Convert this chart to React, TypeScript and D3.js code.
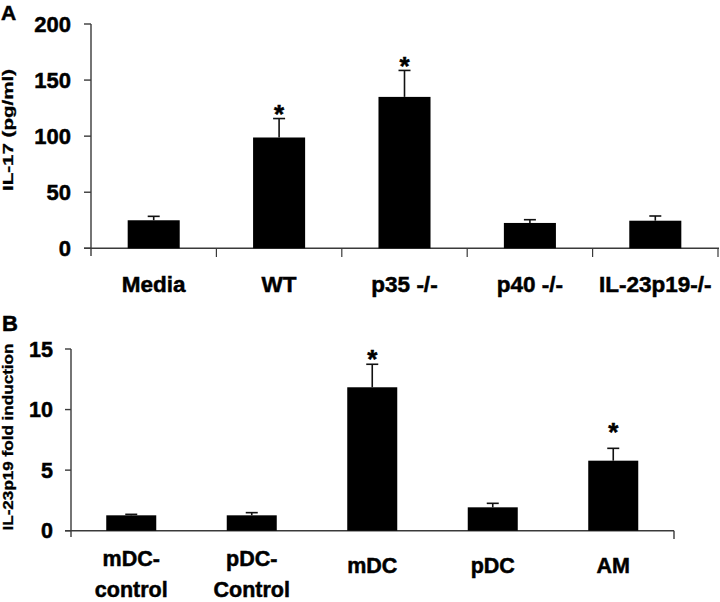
import React from "react";
import * as d3 from "d3";

// Panel A data
const catsA = ["Media", "WT", "p35 -/-", "p40 -/-", "IL-23p19-/-"];
const valsA = [25, 98.8, 135, 22.6, 24.6];
const errA = [28.5, 115.7, 158.6, 25.5, 28.8];
const starsA = [null, 126, 168, null, null];
const ticksA = [0, 50, 100, 150, 200];

// Panel B data
const catsB = [["mDC-", "control"], ["pDC-", "Control"], ["mDC"], ["pDC"], ["AM"]];
const valsB = [1.27, 1.27, 11.84, 1.93, 5.78];
const errB = [1.35, 1.49, 13.74, 2.26, 6.8];
const starsB = [null, null, 14.7, null, 8.73];
const ticksB = [0, 5, 10, 15];

const FONT = "'Liberation Sans', Arial, Helvetica, sans-serif";
const AX = "#3a3a3a";
const TS = { stroke: "#000", strokeWidth: 0.5 };

export default function App() {
  // Panel A scales
  const xA = d3.scaleBand<number>().domain(d3.range(catsA.length)).range([91, 718]).paddingInner(0.585).paddingOuter(0.2925);
  const yA = d3.scaleLinear().domain([0, 200]).range([248.3, 24]);
  const stepA = (718 - 91) / catsA.length;

  // Panel B scales
  const xB = d3.scaleBand<number>().domain(d3.range(catsB.length)).range([71, 673.5]).paddingInner(0.585).paddingOuter(0.2925);
  const yB = d3.scaleLinear().domain([0, 15]).range([530.7, 349]);

  const cap = 6;

  return (
    <svg width={720} height={602} style={{ position: "absolute", left: 0, top: 0, background: "#fff" }} fontFamily={FONT}>
      <rect width={720} height={602} fill="#fff" />
      {/* Panel A */}
      <text x={1} y={20} fontSize={21} fontWeight="bold" {...TS}>A</text>
      <text transform={`translate(12.5,130) rotate(-90)`} textAnchor="middle" fontSize={14} fontWeight="bold" textLength={122} lengthAdjust="spacingAndGlyphs" stroke="#000" strokeWidth={0.3}>IL-17 (pg/ml)</text>
      {/* axes */}
      <line x1={91} x2={91} y1={yA(200)} y2={256} stroke={AX} strokeWidth={1.4} />
      <line x1={84} x2={719} y1={yA(0)} y2={yA(0)} stroke={AX} strokeWidth={1.4} />
      {ticksA.map((t) => (
        <g key={t}>
          <line x1={84} x2={91} y1={yA(t)} y2={yA(t)} stroke={AX} strokeWidth={1.4} />
          <text x={71} y={yA(t)} dy="0.36em" textAnchor="end" fontSize={22} fontWeight="bold" {...TS}>{t}</text>
        </g>
      ))}
      {d3.range(1, catsA.length + 1).map((i) => (
        <line key={i} x1={91 + i * stepA} x2={91 + i * stepA} y1={yA(0)} y2={257} stroke={AX} strokeWidth={1.2} />
      ))}
      {catsA.map((c, i) => {
        const x = xA(i)!;
        const w = xA.bandwidth();
        const cx = x + w / 2;
        return (
          <g key={c}>
            <rect x={x} y={yA(valsA[i])} width={w} height={yA(0) - yA(valsA[i])} fill="#000" />
            <line x1={cx} x2={cx} y1={yA(valsA[i])} y2={yA(errA[i])} stroke="#111" strokeWidth={1.6} />
            <line x1={cx - cap} x2={cx + cap} y1={yA(errA[i])} y2={yA(errA[i])} stroke="#111" strokeWidth={1.6} />
            {starsA[i] != null && (
              <text x={cx} y={yA(starsA[i] as number)} dy="0.6em" textAnchor="middle" fontSize={26} fontWeight="bold" {...TS}>*</text>
            )}
            <text x={cx} y={292} textAnchor="middle" fontSize={22.5} fontWeight="bold" {...TS}>{c}</text>
          </g>
        );
      })}

      {/* Panel B */}
      <text x={2} y={331} fontSize={22} fontWeight="bold" {...TS}>B</text>
      <text transform={`translate(12.5,437) rotate(-90)`} textAnchor="middle" fontSize={14} fontWeight="bold" textLength={187} lengthAdjust="spacingAndGlyphs" stroke="#000" strokeWidth={0.3}>IL-23p19 fold induction</text>
      <line x1={71} x2={71} y1={yB(15)} y2={537} stroke={AX} strokeWidth={1.4} />
      <line x1={65} x2={674} y1={yB(0)} y2={yB(0)} stroke={AX} strokeWidth={1.4} />
      <line x1={674} x2={674} y1={yB(0)} y2={539} stroke={AX} strokeWidth={1.4} />
      {ticksB.map((t) => (
        <g key={t}>
          <line x1={65} x2={71} y1={yB(t)} y2={yB(t)} stroke={AX} strokeWidth={1.4} />
          <text x={53} y={yB(t)} dy="0.36em" textAnchor="end" fontSize={21.5} fontWeight="bold" {...TS}>{t}</text>
        </g>
      ))}
      {catsB.map((c, i) => {
        const x = xB(i)!;
        const w = xB.bandwidth();
        const cx = x + w / 2;
        return (
          <g key={i}>
            <rect x={x} y={yB(valsB[i])} width={w} height={yB(0) - yB(valsB[i])} fill="#000" />
            <line x1={cx} x2={cx} y1={yB(valsB[i])} y2={yB(errB[i])} stroke="#111" strokeWidth={1.6} />
            <line x1={cx - cap} x2={cx + cap} y1={yB(errB[i])} y2={yB(errB[i])} stroke="#111" strokeWidth={1.6} />
            {starsB[i] != null && (
              <text x={cx} y={yB(starsB[i] as number)} dy="0.6em" textAnchor="middle" fontSize={26} fontWeight="bold" {...TS}>*</text>
            )}
            {c.length === 2 ? (
              <>
                <text x={cx} y={566} textAnchor="middle" fontSize={21.5} fontWeight="bold" {...TS}>{c[0]}</text>
                <text x={cx} y={597} textAnchor="middle" fontSize={21.5} fontWeight="bold" {...TS}>{c[1]}</text>
              </>
            ) : (
              <text x={cx} y={573} textAnchor="middle" fontSize={21.5} fontWeight="bold" {...TS}>{c[0]}</text>
            )}
          </g>
        );
      })}
    </svg>
  );
}
